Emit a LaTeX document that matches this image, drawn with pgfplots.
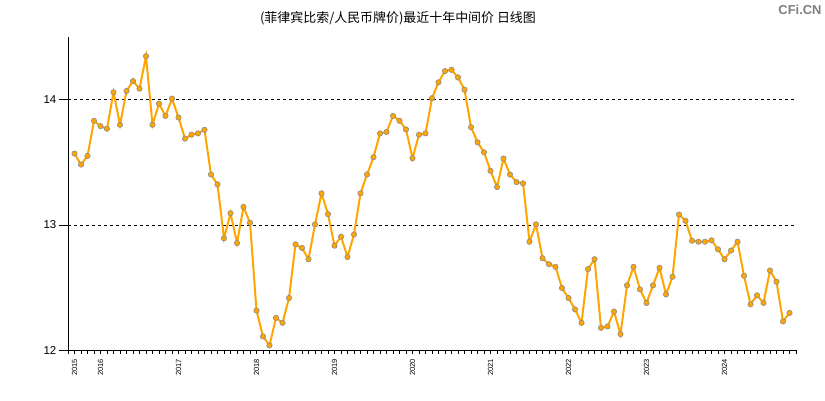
\documentclass[border=0pt]{standalone}
\usepackage{pgfplots}
\pgfplotsset{compat=1.18}
\usepackage{pgfplotstable}
\usepackage{fontspec}
\setmainfont{Liberation Sans}
\newfontfamily\cjk{Noto Sans CJK SC}
\definecolor{lineor}{HTML}{FFA500}
\definecolor{markgray}{HTML}{8C8C8C}
\pgfplotstableread{
x y
0 13.569
1 13.481
2 13.550
3 13.831
4 13.788
5 13.767
6 14.058
7 13.799
8 14.069
9 14.148
10 14.087
11 14.347
12 13.799
13 13.968
14 13.870
15 14.008
16 13.857
17 13.688
18 13.720
19 13.730
20 13.759
21 13.402
22 13.323
23 12.892
24 13.093
25 12.854
26 13.143
27 13.016
28 12.315
29 12.108
30 12.037
31 12.257
32 12.217
33 12.415
34 12.844
35 12.815
36 12.725
37 13.003
38 13.251
39 13.085
40 12.833
41 12.905
42 12.743
43 12.923
44 13.251
45 13.402
46 13.540
47 13.730
48 13.741
49 13.870
50 13.831
51 13.762
52 13.532
53 13.720
54 13.730
55 14.011
56 14.138
57 14.228
58 14.238
59 14.177
60 14.079
61 13.780
62 13.659
63 13.579
64 13.431
65 13.302
66 13.529
67 13.402
68 13.341
69 13.331
70 12.865
71 13.003
72 12.733
73 12.685
74 12.664
75 12.495
76 12.415
77 12.325
78 12.217
79 12.646
80 12.725
81 12.177
82 12.188
83 12.307
84 12.127
85 12.516
86 12.664
87 12.484
88 12.376
89 12.516
90 12.656
91 12.444
92 12.585
93 13.082
94 13.032
95 12.873
96 12.865
97 12.865
98 12.876
99 12.804
100 12.725
101 12.794
102 12.865
103 12.593
104 12.365
105 12.437
106 12.376
107 12.635
108 12.545
109 12.228
110 12.296
}\datatable
\begin{document}
\begin{tikzpicture}[x=1bp,y=1bp]
\path[use as bounding box] (0,0) rectangle (825,400);
\begin{axis}[
  at={(68bp,50bp)}, anchor=south west,
  scale only axis, width=728bp, height=313bp,
  xmin=-1, xmax=111, ymin=12, ymax=14.5,
  axis lines=left,
  axis line style={-, black, line width=0.8pt},
  tick align=outside,
  major tick length=9bp, minor tick length=4bp,
  tick style={black, line width=0.6pt},
  major x tick style={draw=none},
  xtick={0,4,16,28,40,52,64,76,88,100},
  xticklabels={2015,2016,2017,2018,2019,2020,2021,2022,2023,2024},
  minor xtick={-1,0,...,111},
  xticklabel style={rotate=90, anchor=east, font=\fontsize{7.5}{7.5}\selectfont, inner sep=0pt},
  ytick={12,13,14},
  yticklabel style={font=\fontsize{11.5}{11.5}\selectfont, inner sep=2.5bp},
  /pgf/number format/assume math mode=true,
  ymajorgrids,
  major grid style={dashed, black, line width=0.6pt},
  clip=false,
]
\addplot[lineor, line width=2pt, mark=*, mark size=2.7pt,
  mark options={fill=lineor, draw=markgray, line width=0.6pt}] table[x=x,y=y] {\datatable};
\end{axis}
\node[font=\cjk\fontsize{13}{13}\selectfont] at (398,382) {(菲律宾比索/人民币牌价)最近十年中间价 日线图};
\node[font=\bfseries\fontsize{13}{13}\selectfont, text=gray] at (800,390) {CFi.CN};
\end{tikzpicture}
\end{document}
